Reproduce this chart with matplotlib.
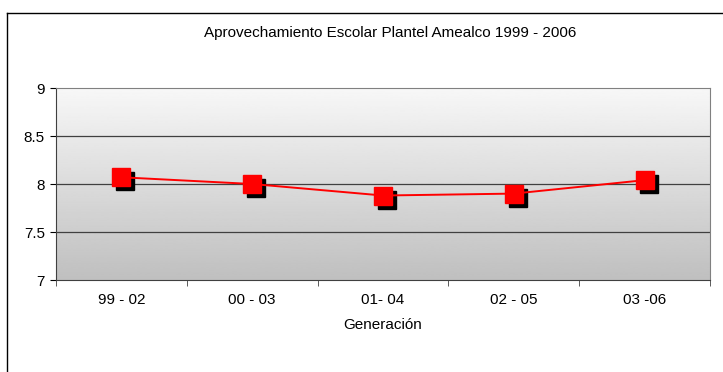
import numpy as np
import matplotlib.pyplot as plt
import matplotlib.transforms as mtransforms
from matplotlib.lines import Line2D

plt.rcParams['font.family'] = ['Liberation Sans', 'DejaVu Sans']

# datos
generaciones = ['99 - 02', '00 - 03', '01- 04', '02 - 05', '03 -06']
promedios = [8.07, 8.0, 7.88, 7.9, 8.04]

fig = plt.figure(figsize=(7.23, 3.72), dpi=100)
ax = fig.add_axes([56 / 723, 1 - 280 / 372, 654 / 723, 192 / 372])

# fondo degradado blanco -> gris
grad = np.linspace(0.97, 0.75, 256).reshape(-1, 1)
ax.imshow(grad, extent=[0, 1, 0, 1], transform=ax.transAxes, cmap='gray',
          vmin=0, vmax=1, aspect='auto', zorder=0)

x = np.arange(len(generaciones))

# sombra de los marcadores
sombra = mtransforms.offset_copy(ax.transData, fig=fig, x=4, y=-4, units='dots')
ax.plot(x, promedios, linestyle='none', marker='s', markersize=13.5,
        color='black', transform=sombra, zorder=3)
ax.plot(x, promedios, color='#ff0000', linewidth=1.4, marker='s',
        markersize=13.5, markerfacecolor='#ff0000', markeredgecolor='#ff0000',
        zorder=4)

ax.set_xlim(-0.5, len(generaciones) - 0.5)
ax.set_ylim(7, 9)
ax.set_yticks([7, 7.5, 8, 8.5, 9])
ax.set_yticklabels(['7', '7.5', '8', '8.5', '9'])
for v in [7.5, 8, 8.5]:
    ax.axhline(v, color='#404040', linewidth=0.9, zorder=1)

ax.set_xticks(x)
ax.set_xticklabels(generaciones)
ax.set_xticks(np.arange(-0.5, len(generaciones), 1), minor=True)
ax.tick_params(axis='x', which='major', length=0, pad=9, labelsize=11)
ax.tick_params(axis='x', which='minor', length=4, direction='out', color='#404040')
ax.tick_params(axis='y', length=4, direction='out', labelsize=11, pad=4)

for s in ['left', 'bottom']:
    ax.spines[s].set_color('#404040')
for s in ['top', 'right']:
    ax.spines[s].set_color('#808080')

ax.set_xlabel('Generación', fontsize=11, labelpad=8)
fig.text(390 / 723, 1 - 33 / 372, 'Aprovechamiento Escolar Plantel Amealco 1999 - 2006',
         ha='center', va='center', fontsize=11)

# borde exterior del gráfico
fig.add_artist(Line2D([7 / 723, 7 / 723], [0, 1 - 13 / 372], color='black',
                      linewidth=1, transform=fig.transFigure))
fig.add_artist(Line2D([7 / 723, 1], [1 - 13 / 372, 1 - 13 / 372], color='black',
                      linewidth=1, transform=fig.transFigure))

fig.savefig('out.png', dpi=100)
plt.close()
